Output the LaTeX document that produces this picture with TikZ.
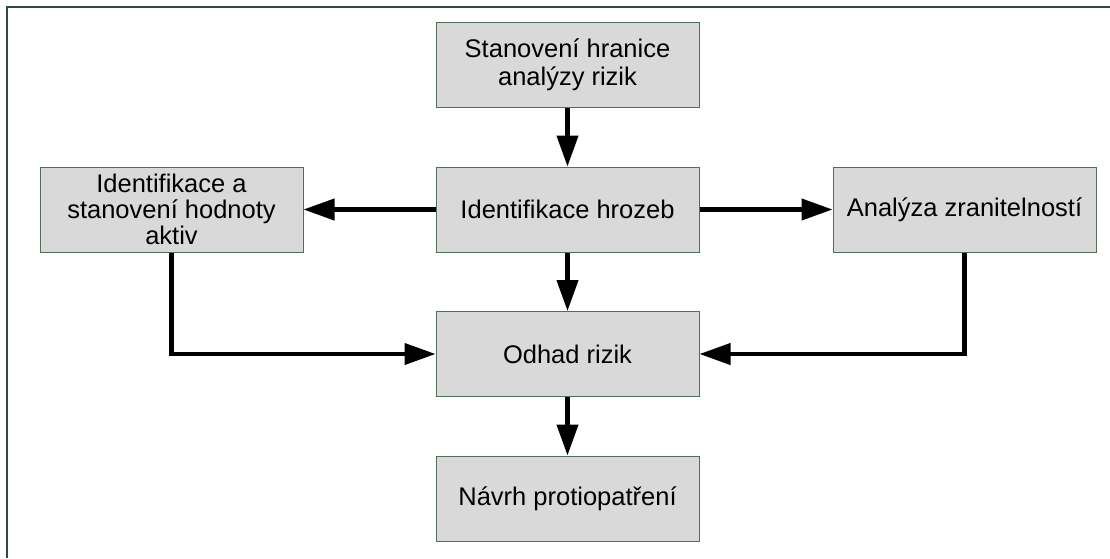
\documentclass[tikz,border=0pt]{standalone}
\usepackage{fontspec}
\setmainfont{Liberation Sans}
\usetikzlibrary{arrows.meta}
\definecolor{boxfill}{HTML}{D9D9D9}
\definecolor{boxline}{HTML}{4F6F58}
\definecolor{frameline}{HTML}{2F4A3A}
\begin{document}
\begin{tikzpicture}[x=1pt,y=-1pt,
  stepbox/.style={draw=boxline, line width=1pt, fill=boxfill, minimum width=263pt, minimum height=85pt, inner sep=0pt, align=center, font=\fontsize{25.5}{28}\selectfont, text=black},
  flow/.style={line width=4.2pt, -{Triangle[length=31pt,width=21pt]}}]
\useasboundingbox (0,0) rectangle (1110,558);
\draw[frameline, line width=1.5pt] (7,558) -- (7,7) -- (1110,7);
\node[stepbox] (top) at (567.5,65) {Stanovení hranice\\analýzy rizik};
\node[stepbox] (hro) at (567.5,209.5) {Identifikace hrozeb};
\node[stepbox, font=\fontsize{25.5}{26}\selectfont] (left) at (171.5,209.5) {Identifikace a\\stanovení hodnoty\\aktiv};
\node[stepbox] (right) at (964.5,209.5) {Analýza zranitelností};
\node[stepbox] (odh) at (567.5,354) {Odhad rizik};
\node[stepbox] (nav) at (567.5,498.5) {Návrh protiopatření};
\draw[flow] (top) -- (hro);
\draw[flow] (hro) -- (left);
\draw[flow] (hro) -- (right);
\draw[flow] (hro) -- (odh);
\draw[flow] (odh) -- (nav);
\draw[flow] (left.south) |- (odh.west);
\draw[flow] (right.south) |- (odh.east);
\end{tikzpicture}
\end{document}
